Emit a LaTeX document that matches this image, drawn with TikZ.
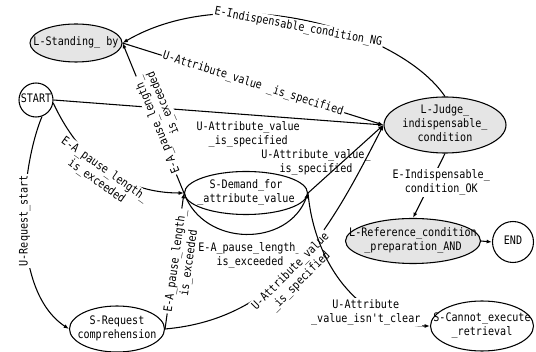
\documentclass[tikz,border=0pt]{standalone}
\usepackage{fontspec}
\newfontfamily\diafont[FakeStretch=0.86]{DejaVu Sans Mono}
\usetikzlibrary{shapes.geometric,arrows.meta}

\tikzset{
  state/.style={draw, line width=0.8pt, ellipse, inner sep=0pt},
  grey/.style={fill=gray!20},
  trans/.style={draw, line width=0.8pt, -{Latex[length=4pt,width=3pt]}},
  tlabel/.style={fill=white, inner sep=1pt, align=center},
}
\newcommand{\st}[1]{\makebox[0pt]{\begin{tabular}{@{}c@{}}#1\end{tabular}}}

\begin{document}
\begin{tikzpicture}[x=0.75pt, y=-0.75pt, font=\diafont\fontsize{8.8}{10.5}\selectfont]
  \useasboundingbox (0,0) rectangle (536,352);

  % states
  \node[state, grey, minimum width=69pt, minimum height=28.5pt] (standing) at (76,43) {\st{L-Standing\_ by}};
  \node[state, circle, minimum size=25.5pt] (start) at (36,100) {\st{START}};
  \node[state, grey, inner ysep=-1.5pt, minimum width=91.5pt, minimum height=42pt] (judge) at (445,125) {\st{L-Judge\_\\indispensable\_\\condition}};
  \node[state, minimum width=92.25pt, minimum height=32.25pt] (sdemand) at (246,193) {\st{S-Demand\_for\\\_attribute\_value}};
  \node[state, grey, minimum width=101.25pt, minimum height=33.75pt] (lref) at (413,241) {\st{L-Reference\_condition\\\_preparation\_AND}};
  \node[state, circle, minimum size=30.75pt] (stop) at (513,242) {\st{END}};
  \node[state, minimum width=77.25pt, minimum height=37.5pt] (scannot) at (482,326) {\st{S-Cannot\_execute\\\_retrieval}};
  \node[state, minimum width=71.25pt, minimum height=34.5pt] (sreq) at (117,329) {\st{S-Request\\comprehension}};

  % transitions
  \draw[trans] (judge.north) .. controls (400,30) and (230,-20) .. node[tlabel, sloped, pos=0.52, below=0pt] {E-Indispensable\_condition\_NG} (standing.east);
  \draw[trans] (standing.east) -- node[tlabel, sloped] {U-Attribute\_value \_is\_specified} (judge.west);
  \draw[trans] (start.east) -- node[pos=0.59, below=1pt, align=center] {U-Attribute\_value\\\_is\_specified} (judge.west);
  \draw[trans] (start.-70) .. controls (20,170) and (10,290) .. node[tlabel, pos=0.47, rotate=90] {U-Request\_start} (sreq.west);
  \draw[trans] (start.-10) to[out=-65, in=180] node[tlabel, sloped, pos=0.5, below=-5pt] {E-A\_pause\_length\_\\is\_exceeded} (sdemand.west);
  \draw[trans] (sdemand.west) -- node[tlabel, sloped, allow upside down, align=right, pos=0.45, below=-5pt] {E-A\_pause\_length\_\\is\_exceeded} (standing.east);
  \draw[trans] (sreq.east) -- node[tlabel, sloped, below=-5pt] {E-A\_pause\_length\_\\is\_exceeded} (sdemand.west);
  \draw[trans] (sdemand.west) to[out=-70, in=-110, looseness=1.2] node[below=3pt, xshift=3pt, align=center] {E-A\_pause\_length\_\\is\_exceeded} (sdemand.east);
  \draw[trans] (sdemand.east) -- node[pos=0.45, xshift=-19.5pt, align=center] {U-Attribute\_value\_\\is\_specified} (judge.west);
  \draw[trans] (sreq.east) to[out=5, in=243] node[tlabel, sloped, pos=0.46, below=-5pt] {U-Attribute\_value\\\_is\_specified} (judge.west);
  \draw[trans] (sdemand.east) to[out=-85, in=180] node[tlabel, pos=0.65, yshift=-5pt] {U-Attribute\\\_value\_isn't\_clear} (scannot.west);
  \draw[trans] (judge.south) -- node[tlabel, pos=0.45, xshift=8pt] {E-Indispensable\_\\condition\_OK} (lref.north);
  \draw[trans] (lref.east) -- (stop.west);
\end{tikzpicture}
\end{document}
